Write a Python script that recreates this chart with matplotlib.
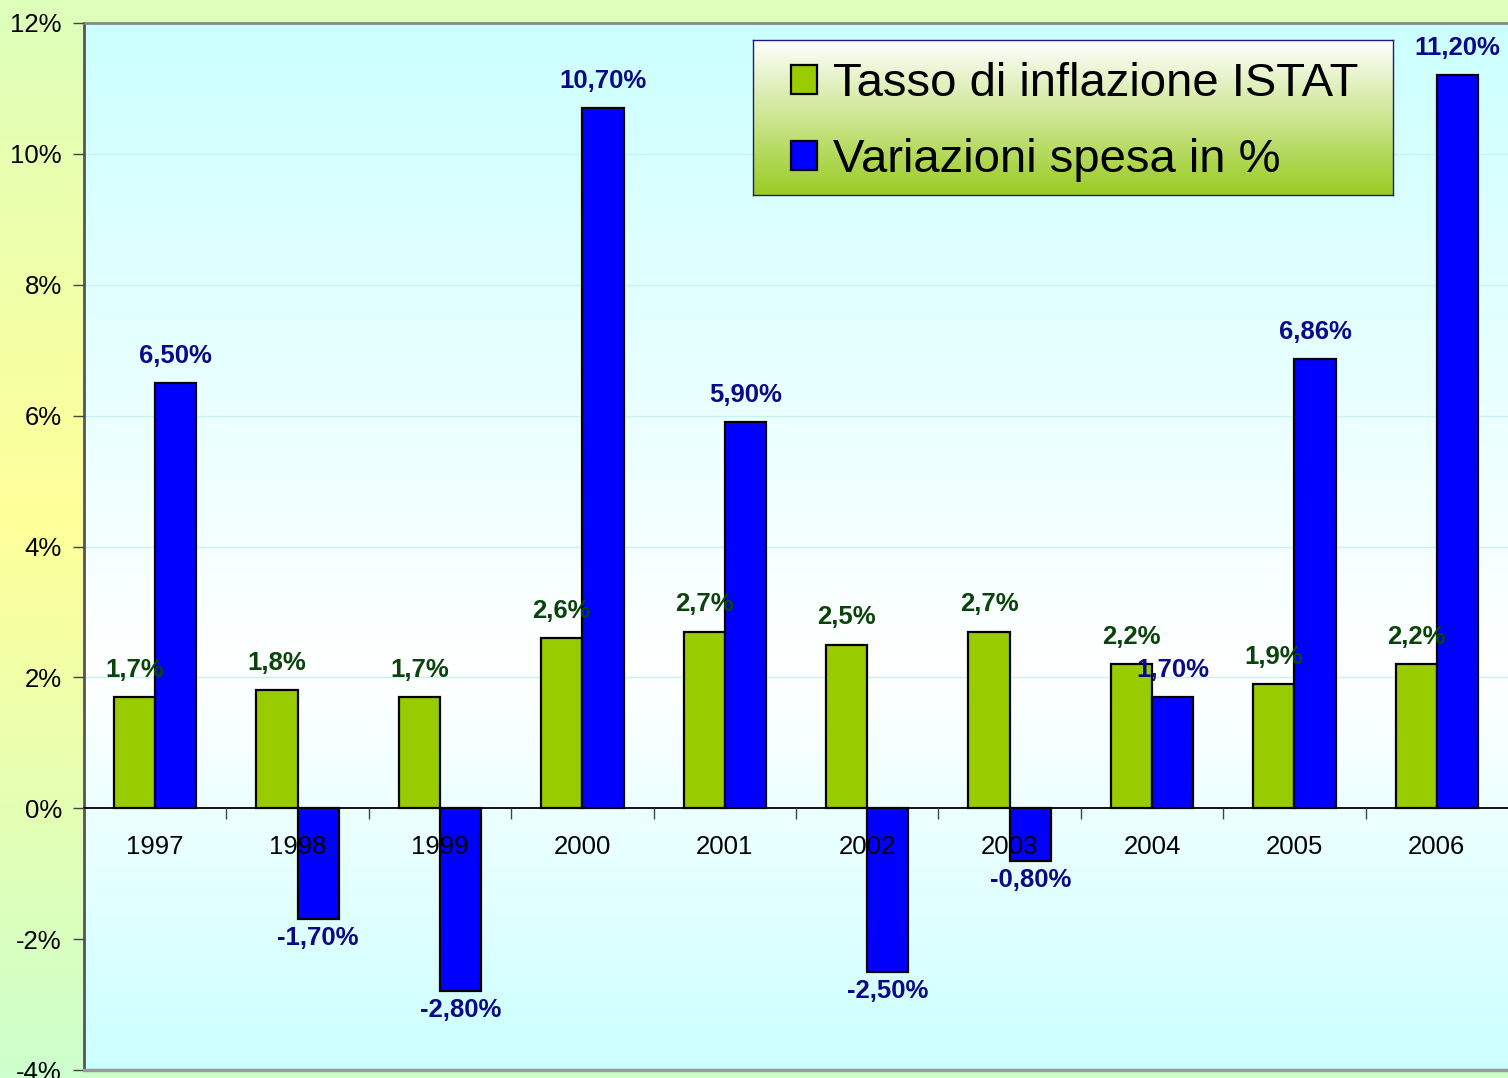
import numpy as np
import matplotlib
matplotlib.use("Agg")
import matplotlib.pyplot as plt
from matplotlib.colors import LinearSegmentedColormap

# dati
anni = ["1997", "1998", "1999", "2000", "2001", "2002", "2003", "2004", "2005", "2006"]
inflazione = [1.7, 1.8, 1.7, 2.6, 2.7, 2.5, 2.7, 2.2, 1.9, 2.2]
spesa = [6.50, -1.70, -2.80, 10.70, 5.90, -2.50, -0.80, 1.70, 6.86, 11.20]
etichette_infl = ["1,7%", "1,8%", "1,7%", "2,6%", "2,7%", "2,5%", "2,7%", "2,2%", "1,9%", "2,2%"]
etichette_spesa = ["6,50%", "-1,70%", "-2,80%", "10,70%", "5,90%", "-2,50%", "-0,80%", "1,70%", "6,86%", "11,20%"]
y_ticks = [-4, -2, 0, 2, 4, 6, 8, 10, 12]
nomi_serie = ["Tasso di inflazione ISTAT", "Variazioni spesa in %"]

plt.rcParams["font.family"] = ["Liberation Sans", "DejaVu Sans"]

W, H = 1508, 1078
fig = plt.figure(figsize=(W / 100, H / 100), dpi=100)

# sfondo esterno: verde -> giallo -> verde (verticale)
bg = fig.add_axes([0, 0, 1, 1], zorder=-10)
cm_bg = LinearSegmentedColormap.from_list(
    "bg", [(0, "#ccffcc"), (0.52, "#ffff99"), (1, "#ddffbb")])
bg.imshow(np.linspace(0, 1, 256).reshape(-1, 1), cmap=cm_bg, aspect="auto",
          origin="lower", extent=[0, 1, 0, 1])
bg.set_axis_off()

ax = fig.add_axes([84 / W, 1 - 1070 / H, 1 - 84 / W, (1070 - 23) / H])
ax.set_facecolor("none")
ax.set_axisbelow(False)

# sfondo area del grafico: ciano -> bianco -> ciano
cm_pa = LinearSegmentedColormap.from_list(
    "pa", [(0, "#ccffff"), (0.38, "#ffffff"), (1, "#ccffff")])
ax.imshow(np.linspace(0, 1, 256).reshape(-1, 1), cmap=cm_pa, aspect="auto",
          origin="lower", extent=[0, 1, 0, 1], transform=ax.transAxes, zorder=0)

x = np.arange(len(anni))
w = 0.29
b1 = ax.bar(x - w / 2, inflazione, w, color="#99cc00", edgecolor="black",
            linewidth=1.6, zorder=2, label=nomi_serie[0])
b2 = ax.bar(x + w / 2, spesa, w, color="#0000ff", edgecolor="black",
            linewidth=1.6, zorder=2, label=nomi_serie[1])

for xi, v, t in zip(x, inflazione, etichette_infl):
    ax.annotate(t, (xi - w / 2, v), xytext=(0, 11), textcoords="offset points",
                ha="center", va="bottom", fontsize=18.5, fontweight="bold",
                color="#0a440a", zorder=5)
for xi, v, t in zip(x, spesa, etichette_spesa):
    if v >= 0:
        ax.annotate(t, (xi + w / 2, v), xytext=(0, 11), textcoords="offset points",
                    ha="center", va="bottom", fontsize=18.5, fontweight="bold",
                    color="#0a0a88", zorder=5)
    else:
        ax.annotate(t, (xi + w / 2, v), xytext=(0, -5), textcoords="offset points",
                    ha="center", va="top", fontsize=18.5, fontweight="bold",
                    color="#0a0a88", zorder=5)

ax.set_xlim(-0.5, len(anni) - 0.5)
ax.set_ylim(-4, 12)
ax.set_yticks(y_ticks)
ax.set_yticklabels([f"{t}%" for t in y_ticks], fontsize=18.5)
for t in y_ticks[3:-1]:
    ax.axhline(t, color="#c8f2f4", lw=1, zorder=0.5)

# asse x sulla linea dello zero
ax.spines["bottom"].set_position(("data", 0))
ax.spines["bottom"].set_color("black")
ax.spines["bottom"].set_linewidth(1.3)
ax.set_xticks(x)
ax.set_xticklabels(anni, fontsize=18.5)
ax.set_xticks(np.arange(0.5, len(anni) - 0.5), minor=True)
ax.tick_params(axis="x", which="major", length=0, pad=19)
ax.tick_params(axis="x", which="minor", length=8, width=1, color="#444444")
ax.tick_params(axis="y", length=8, width=1, color="#444444", pad=8)

ax.spines["right"].set_visible(False)
ax.spines["top"].set_color("#888888")
ax.spines["top"].set_linewidth(2)
ax.spines["left"].set_color("#555555")
ax.spines["left"].set_linewidth(2)
ax.axhline(-4, color="#999999", lw=2.5, clip_on=False, zorder=3)

# legenda con sfondo sfumato
lax = fig.add_axes([753 / W, 1 - 195 / H, (1393 - 753) / W, (195 - 40) / H], zorder=5)
cm_lg = LinearSegmentedColormap.from_list("lg", [(0, "#99cc22"), (1, "#ffffff")])
lax.imshow(np.linspace(0, 1, 256).reshape(-1, 1), cmap=cm_lg, aspect="auto",
           origin="lower", extent=[0, 1, 0, 1])
lax.set_xticks([])
lax.set_yticks([])
for s in lax.spines.values():
    s.set_color("#1a1a80")
    s.set_linewidth(1)
lax.legend([b1, b2], nomi_serie, loc="center left", frameon=False, fontsize=34,
           handlelength=0.55, handleheight=0.55, handletextpad=0.34,
           labelspacing=0.68, borderaxespad=0.4, bbox_to_anchor=(0.0, 0.47))

fig.savefig("out.png", dpi=100)
